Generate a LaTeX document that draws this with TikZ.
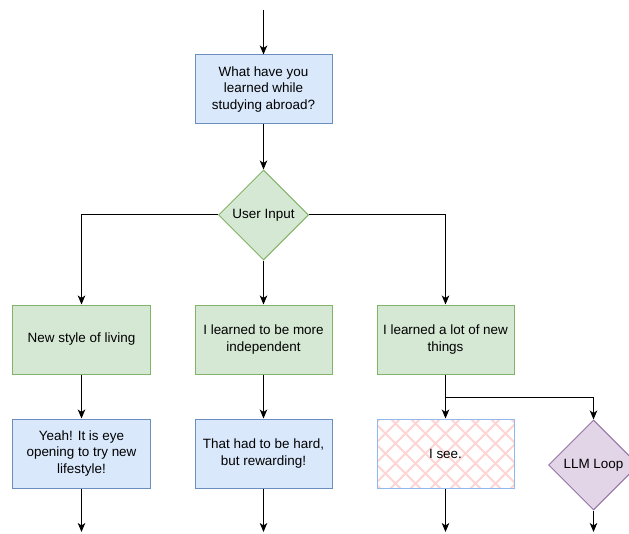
\documentclass[tikz,border=0pt]{standalone}
\usepackage{fontspec}
\setmainfont{Liberation Sans}
\usetikzlibrary{shapes.geometric,arrows.meta,calc}
\definecolor{bfill}{HTML}{DAE8FC}
\definecolor{bdraw}{HTML}{6C8EBF}
\definecolor{gfill}{HTML}{D5E8D4}
\definecolor{gdraw}{HTML}{82B366}
\definecolor{pfill}{HTML}{E1D5E7}
\definecolor{pdraw}{HTML}{9673A6}
\definecolor{hatchc}{HTML}{FFD4D4}
\definecolor{iseedraw}{HTML}{8FB8EE}
\tikzset{
  box/.style={rectangle, minimum width=137bp, minimum height=69bp, inner sep=0pt, align=center,
    font=\fontsize{13.5}{17}\selectfont, line width=1bp},
  bluebox/.style={box, fill=bfill, draw=bdraw},
  greenbox/.style={box, fill=gfill, draw=gdraw},
  dia/.style={diamond, aspect=1, minimum width=90bp, minimum height=90bp, inner sep=0pt,
    align=center, font=\fontsize{13.5}{17}\selectfont, line width=1bp},
  arr/.style={-{Stealth[length=9bp,width=7.5bp,inset=2.5bp]}, line width=1bp, black},
  hatch/.style={hatchc, line width=1.8bp}
}
\begin{document}
\begin{tikzpicture}[x=1bp,y=-1bp]
\useasboundingbox (0,0) rectangle (629,534);
\node[bluebox] (q) at (263.5,89.5) {What have you\\learned while\\studying abroad?};
\node[dia, fill=gfill, draw=gdraw] (ui) at (263.5,215) {User Input};
\node[greenbox] (g1) at (81.5,339.5) {New style of living};
\node[greenbox] (g2) at (263.5,339.5) {I learned to be more\\independent};
\node[greenbox] (g3) at (445.5,339.5) {I learned a lot of new\\things};
\node[bluebox] (r1) at (81.5,453.5) {Yeah! It is eye\\opening to try new\\lifestyle!};
\node[bluebox] (r2) at (263.5,453.5) {That had to be hard,\\but rewarding!};
\node[box, fill=white, draw=iseedraw,
  path picture={
    \foreach \k in {-9,...,9} {
      \draw[hatch] ([xshift=\k*20bp]path picture bounding box.center) ++(-90bp,-90bp) -- ++(180bp,180bp);
      \draw[hatch] ([xshift=\k*20bp]path picture bounding box.center) ++(-90bp,90bp) -- ++(180bp,-180bp);
    }
  }] (r3) at (445.5,453.5) {I see.};
\node[dia, fill=pfill, draw=pdraw] (llm) at (593.5,465) {LLM Loop};
\coordinate (top) at (263.5,10);
\coordinate (j) at (445.5,397);
\coordinate (e1) at (81.5,532);
\coordinate (e2) at (263.5,532);
\coordinate (e3) at (445.5,532);
\coordinate (e4) at (593.5,532);
\draw[arr] (top) -- (q.north);
\draw[arr] (q.south) -- (ui.north);
\draw[arr] (ui.west) -| (g1.north);
\draw[arr] (ui.south) -- (g2.north);
\draw[arr] (ui.east) -| (g3.north);
\draw[arr] (g1.south) -- (r1.north);
\draw[arr] (g2.south) -- (r2.north);
\draw[arr] (g3.south) -- (r3.north);
\draw[arr] (j) -| (llm.north);
\draw[arr] (r1.south) -- (e1);
\draw[arr] (r2.south) -- (e2);
\draw[arr] (r3.south) -- (e3);
\draw[arr] (llm.south) -- (e4);
\end{tikzpicture}
\end{document}
